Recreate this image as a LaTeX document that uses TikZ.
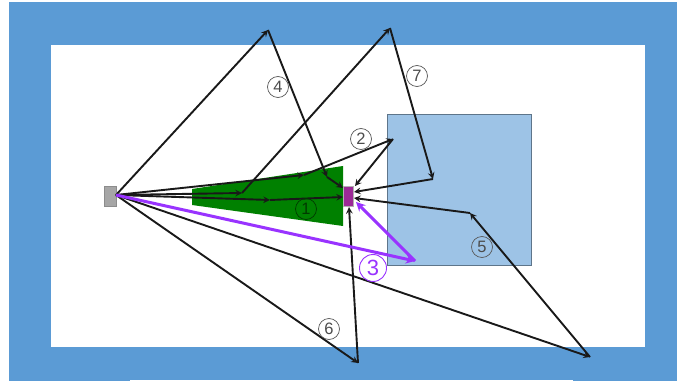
\documentclass[tikz,border=0pt]{standalone}
\usepackage{fontspec}
\setmainfont{Liberation Sans}
\definecolor{frameblue}{HTML}{5B9BD5}
\definecolor{roomblue}{HTML}{9DC3E6}
\definecolor{wedgegreen}{HTML}{008000}
\definecolor{raypurple}{HTML}{9933FF}
\definecolor{rxpurple}{HTML}{9C2A96}
\tikzset{
  ray/.style={->, black!90, line width=1.9pt},
  rayp/.style={->, raypurple, line width=3pt},
  num/.style={circle, draw=black!65, text=black!70, line width=0.7pt, inner sep=0pt,
    minimum size=21pt, font=\fontsize{16.5}{18}\selectfont}
}
\begin{document}
\begin{tikzpicture}[x=1pt, y=-1pt, >=stealth]
  \useasboundingbox (0,0) rectangle (677,382);
  \fill[white] (0,0) rectangle (677,382);
  \fill[frameblue] (9,2) rectangle (677,381);
  \fill[white] (51,45) rectangle (645,347);
  \fill[white] (130,380) rectangle (573,382);

  \draw[black!40!roomblue, fill=roomblue, line width=0.8pt] (387,114) rectangle (531,265);
  \fill[wedgegreen] (192,189) -- (343,166) -- (343,226) -- (192,205) -- cycle;

  \node[draw=black!45, fill=black!35, minimum width=12pt, minimum height=20pt, inner sep=0pt] (Source) at (110,196) {};
  \node[draw=black!30, fill=rxpurple, minimum width=10pt, minimum height=20pt, inner sep=0pt] (Receiver) at (348,196) {};
  \coordinate (Tx) at (116,195);

  \coordinate (P1) at (270,200);
  \coordinate (P2a) at (304,175);
  \coordinate (P2) at (393,139);
  \coordinate (P3) at (415,261);
  \coordinate (P4) at (268,30);
  \coordinate (P4a) at (327,177);
  \coordinate (P5a) at (590,357);
  \coordinate (P5) at (470,213);
  \coordinate (P6) at (358,363);
  \coordinate (P7a) at (242,193);
  \coordinate (P7) at (390,28);
  \coordinate (P7b) at (433,179);

  \coordinate (R1) at (343,197);
  \coordinate (R2) at (355,186);
  \coordinate (R3) at (356,202);
  \coordinate (R4) at (343,188);
  \coordinate (R5) at (354,198);
  \coordinate (R6) at (349,207);
  \coordinate (R7) at (354,192);

  % 1
  \draw[ray] (Tx) -- (P1);
  \draw[ray] (P1) -- (R1);
  % 2
  \draw[ray] (Tx) -- (P2a);
  \draw[ray] (P2a) -- (P2);
  \draw[ray] (P2) -- (R2);
  % 4
  \draw[ray] (Tx) -- (P4);
  \draw[ray] (P4) -- (P4a);
  \draw[ray] (P4a) -- (R4);
  % 5
  \draw[ray] (Tx) -- (P5a);
  \draw[ray] (P5a) -- (P5);
  \draw[ray] (P5) -- (R5);
  % 6
  \draw[ray] (Tx) -- (P6);
  \draw[ray] (P6) -- (R6);
  % 7
  \draw[ray] (Tx) -- (P7a);
  \draw[ray] (P7a) -- (P7);
  \draw[ray] (P7) -- (P7b);
  \draw[ray] (P7b) -- (R7);
  % 3
  \draw[rayp] (Tx) -- (P3);
  \draw[rayp] (P3) -- (R3);

  \node[num, draw=black!55!wedgegreen, text=black!55!wedgegreen] (n1) at (306,209) {1};
  \node[num] (n2) at (361,139) {2};
  \node[num, draw=raypurple, text=raypurple, line width=0.9pt, minimum size=27pt, font=\fontsize{22}{24}\selectfont] (n3) at (373,268) {3};
  \node[num] (n4) at (278,87) {4};
  \node[num] (n5) at (482,247) {5};
  \node[num] (n6) at (329,329) {6};
  \node[num] (n7) at (417,76) {7};
\end{tikzpicture}
\end{document}
